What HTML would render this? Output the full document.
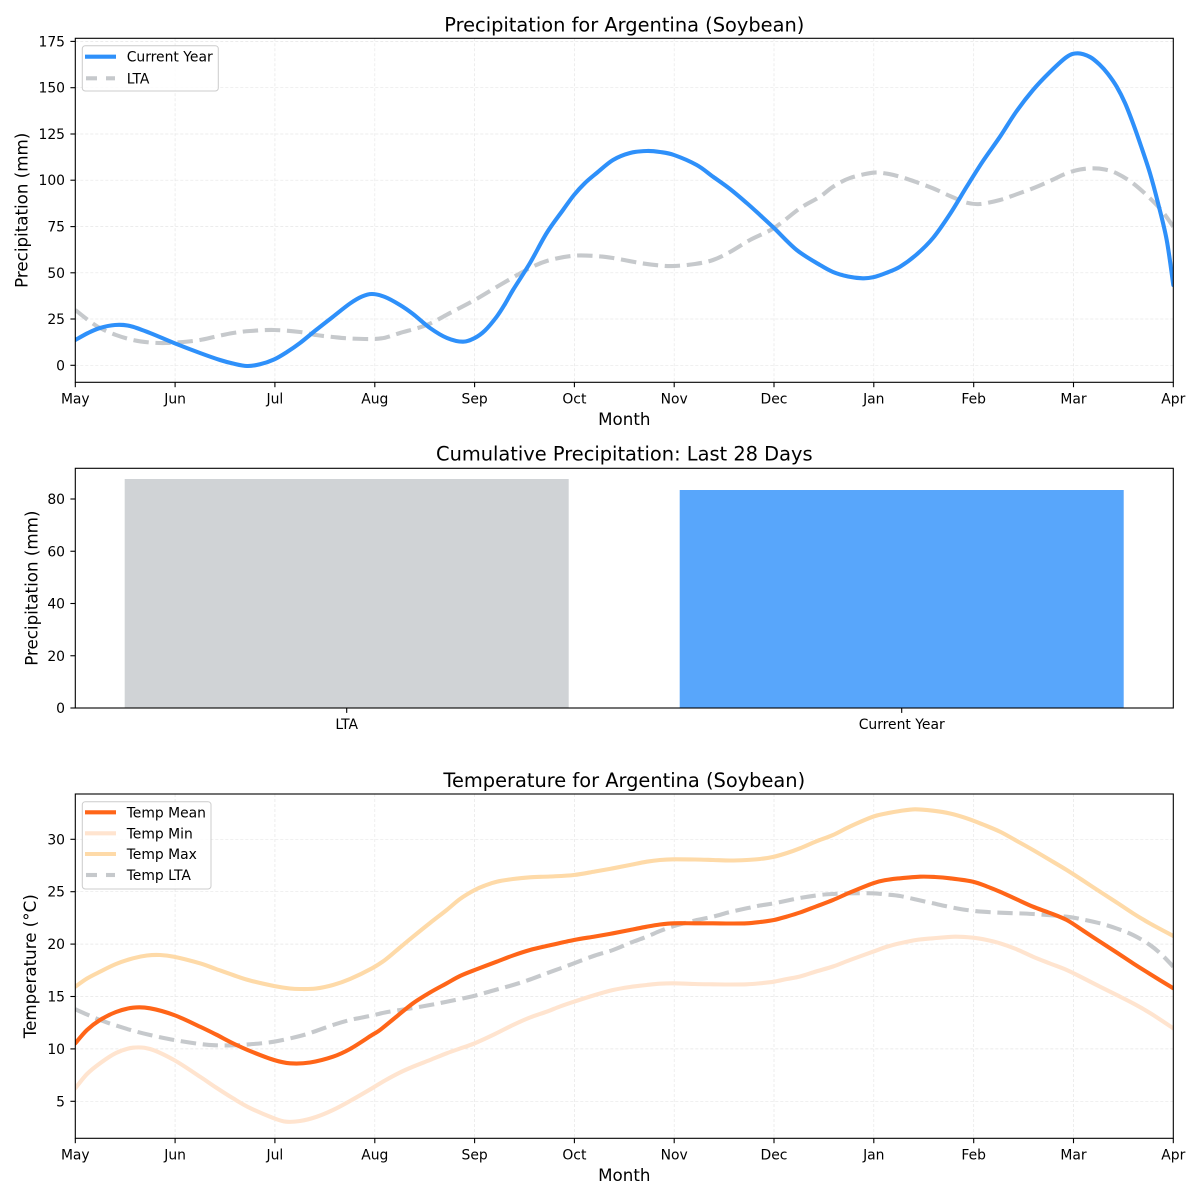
<!DOCTYPE html>
<html><head><meta charset="utf-8"><style>
html,body{margin:0;padding:0;background:#fff;}
svg{display:block;font-family:"DejaVu Sans","Liberation Sans",sans-serif;}
.grid line{stroke:#e6e6e6;stroke-width:0.7;stroke-dasharray:3 2;}
.tk{font-size:13.9px;fill:#000;}
.lab{font-size:16.7px;fill:#000;}
.ttl{font-size:19.4px;fill:#000;}
.lg{font-size:13.9px;fill:#000;}
</style></head><body>
<svg id="c" width="1200" height="1200" viewBox="0 0 1200 1200" xmlns="http://www.w3.org/2000/svg">
<rect width="1200" height="1200" fill="#fff"/>
<defs>
<clipPath id="c1"><rect x="75.3" y="38.3" width="1098" height="344"/></clipPath>
<clipPath id="c3"><rect x="75.3" y="794" width="1098" height="344.3"/></clipPath>
</defs>

<!-- ============ TOP PLOT ============ -->
<g class="grid">
<line x1="75.3" y1="38.3" x2="75.3" y2="382.3"/><line x1="175.1" y1="38.3" x2="175.1" y2="382.3"/><line x1="274.9" y1="38.3" x2="274.9" y2="382.3"/><line x1="374.8" y1="38.3" x2="374.8" y2="382.3"/><line x1="474.6" y1="38.3" x2="474.6" y2="382.3"/><line x1="574.4" y1="38.3" x2="574.4" y2="382.3"/><line x1="674.2" y1="38.3" x2="674.2" y2="382.3"/><line x1="774.0" y1="38.3" x2="774.0" y2="382.3"/><line x1="873.8" y1="38.3" x2="873.8" y2="382.3"/><line x1="973.7" y1="38.3" x2="973.7" y2="382.3"/><line x1="1073.5" y1="38.3" x2="1073.5" y2="382.3"/>
<line x1="75.3" y1="365.3" x2="1173.3" y2="365.3"/><line x1="75.3" y1="319.0" x2="1173.3" y2="319.0"/><line x1="75.3" y1="272.8" x2="1173.3" y2="272.8"/><line x1="75.3" y1="226.6" x2="1173.3" y2="226.6"/><line x1="75.3" y1="180.2" x2="1173.3" y2="180.2"/><line x1="75.3" y1="134.0" x2="1173.3" y2="134.0"/><line x1="75.3" y1="87.7" x2="1173.3" y2="87.7"/><line x1="75.3" y1="41.4" x2="1173.3" y2="41.4"/>
</g>
<g clip-path="url(#c1)" fill="none" stroke-width="4.1" stroke-linejoin="round">
<polyline class="s" stroke="#c6c9cc" stroke-dasharray="15.4 6.7" points="75.3,310 88,320 100,328 116,335 133,340 150,342.5 166,343 183,342 200,340 216,336.5 233,333 250,331 274,330 300,332 316,335 333,337 350,338.5 372,339 385,337.7 400,333 426.7,325 450,313 474.7,300 500,285 530,268 550,260 574,255.7 595,256 613,258 640,263 660,265.5 674,266 695,264 713,260 730,252 750,240 774,228 800,208.3 820,196.7 833,186.7 850,178 873,172.7 886,173.5 900,176.7 916,182 933,188.3 950,196 966.7,202.7 980,204 1000,200 1016,194.5 1033,188.3 1050,181 1066.7,173.3 1080,169.5 1093,168.3 1105,169.5 1116.7,173.3 1133,183.3 1150,198.3 1162,211 1173.3,226.7"/>
<polyline class="s" stroke="#2e90fa" stroke-linecap="round" points="75.3,340 88,333 100,328 115,325 130,326 150,333 174,343 200,353 220,360 233,363.5 247,366 260,364.3 274,359.5 287,352 300,343 316,330 333,316.7 350,303.5 362,296.5 372,294 385,297 400,305 413,314 430,328 447,338 463,341.7 474.7,338 485,330.5 496.7,316.7 505,304 513,290 530,263 546.7,233 563,210 574,195 585,183 596.7,173 613,160 630,153 646.7,151 660,152 674,155 696.7,165 713,176.7 730,189 746.7,203 760,215 774,228 796.7,250 820,265 833,272 848,276.5 862.7,278.3 873,277.3 886,273 900,266.7 916,255 933,238 950,214 966.7,186.7 983,161 1000,136.7 1016,112 1033,90 1050,72 1066.7,57 1077.7,53.3 1090,57 1100,65 1108,74 1116.7,86.7 1125,103 1133,123.3 1141,146 1150,173.3 1158,203 1166.7,240 1173.3,285"/>
</g>
<rect x="75.3" y="38.3" width="1098" height="344" fill="none" stroke="#000" stroke-width="1.1"/>
<g stroke="#000" stroke-width="1.1">
<line x1="75.3" y1="382.3" x2="75.3" y2="387.2"/><line x1="175.1" y1="382.3" x2="175.1" y2="387.2"/><line x1="274.9" y1="382.3" x2="274.9" y2="387.2"/><line x1="374.8" y1="382.3" x2="374.8" y2="387.2"/><line x1="474.6" y1="382.3" x2="474.6" y2="387.2"/><line x1="574.4" y1="382.3" x2="574.4" y2="387.2"/><line x1="674.2" y1="382.3" x2="674.2" y2="387.2"/><line x1="774.0" y1="382.3" x2="774.0" y2="387.2"/><line x1="873.8" y1="382.3" x2="873.8" y2="387.2"/><line x1="973.7" y1="382.3" x2="973.7" y2="387.2"/><line x1="1073.5" y1="382.3" x2="1073.5" y2="387.2"/><line x1="1173.3" y1="382.3" x2="1173.3" y2="387.2"/>
<line x1="70.4" y1="365.3" x2="75.3" y2="365.3"/><line x1="70.4" y1="319.0" x2="75.3" y2="319.0"/><line x1="70.4" y1="272.8" x2="75.3" y2="272.8"/><line x1="70.4" y1="226.6" x2="75.3" y2="226.6"/><line x1="70.4" y1="180.2" x2="75.3" y2="180.2"/><line x1="70.4" y1="134.0" x2="75.3" y2="134.0"/><line x1="70.4" y1="87.7" x2="75.3" y2="87.7"/><line x1="70.4" y1="41.4" x2="75.3" y2="41.4"/>
</g>
<g class="tk" text-anchor="middle">
<text x="75.3" y="403.3">May</text><text x="175.1" y="403.3">Jun</text><text x="274.9" y="403.3">Jul</text><text x="374.8" y="403.3">Aug</text><text x="474.6" y="403.3">Sep</text><text x="574.4" y="403.3">Oct</text><text x="674.2" y="403.3">Nov</text><text x="774.0" y="403.3">Dec</text><text x="873.8" y="403.3">Jan</text><text x="973.7" y="403.3">Feb</text><text x="1073.5" y="403.3">Mar</text><text x="1173.3" y="403.3">Apr</text>
</g>
<g class="tk" text-anchor="end">
<text x="65" y="370.3">0</text><text x="65" y="324">25</text><text x="65" y="277.8">50</text><text x="65" y="231.6">75</text><text x="65" y="185.2">100</text><text x="65" y="139">125</text><text x="65" y="92.7">150</text><text x="65" y="46.4">175</text>
</g>
<text class="lab" x="624.3" y="425" text-anchor="middle">Month</text>
<text class="lab" transform="translate(27.5,210.3) rotate(-90)" text-anchor="middle">Precipitation (mm)</text>
<text class="ttl" x="624.3" y="31.3" text-anchor="middle">Precipitation for Argentina (Soybean)</text>
<!-- legend top -->
<rect x="82.3" y="45.7" width="136" height="45.3" rx="3" fill="#fff" fill-opacity="0.8" stroke="#cccccc" stroke-width="1"/>
<line x1="85" y1="56.7" x2="116" y2="56.7" stroke="#2e90fa" stroke-width="4.1"/>
<line x1="86" y1="78.3" x2="97" y2="78.3" stroke="#c6c9cc" stroke-width="4.1"/>
<line x1="106" y1="78.3" x2="115" y2="78.3" stroke="#c6c9cc" stroke-width="4.1"/>
<text class="lg" x="126.7" y="61.7">Current Year</text>
<text class="lg" x="126.7" y="83.3">LTA</text>

<!-- ============ MIDDLE PLOT ============ -->
<rect x="124.7" y="479" width="444" height="229" fill="#d0d3d6"/>
<rect x="679.7" y="490" width="444" height="218" fill="#58a6fb"/>
<rect x="75.3" y="468.3" width="1098" height="239.7" fill="none" stroke="#000" stroke-width="1.1"/>
<g stroke="#000" stroke-width="1.1">
<line x1="346.7" y1="708" x2="346.7" y2="712.9"/><line x1="901.7" y1="708" x2="901.7" y2="712.9"/>
<line x1="70.4" y1="708" x2="75.3" y2="708"/><line x1="70.4" y1="655.75" x2="75.3" y2="655.75"/><line x1="70.4" y1="603.5" x2="75.3" y2="603.5"/><line x1="70.4" y1="551.25" x2="75.3" y2="551.25"/><line x1="70.4" y1="499" x2="75.3" y2="499"/>
</g>
<g class="tk" text-anchor="end">
<text x="65" y="713">0</text><text x="65" y="660.75">20</text><text x="65" y="608.5">40</text><text x="65" y="556.25">60</text><text x="65" y="504">80</text>
</g>
<g class="tk" text-anchor="middle">
<text x="346.7" y="729">LTA</text><text x="901.7" y="729">Current Year</text>
</g>
<text class="lab" transform="translate(37.5,588.2) rotate(-90)" text-anchor="middle">Precipitation (mm)</text>
<text class="ttl" x="624.3" y="460.5" text-anchor="middle">Cumulative Precipitation: Last 28 Days</text>

<!-- ============ BOTTOM PLOT ============ -->
<g class="grid">
<line x1="75.3" y1="794" x2="75.3" y2="1138.3"/><line x1="175.1" y1="794" x2="175.1" y2="1138.3"/><line x1="274.9" y1="794" x2="274.9" y2="1138.3"/><line x1="374.8" y1="794" x2="374.8" y2="1138.3"/><line x1="474.6" y1="794" x2="474.6" y2="1138.3"/><line x1="574.4" y1="794" x2="574.4" y2="1138.3"/><line x1="674.2" y1="794" x2="674.2" y2="1138.3"/><line x1="774.0" y1="794" x2="774.0" y2="1138.3"/><line x1="873.8" y1="794" x2="873.8" y2="1138.3"/><line x1="973.7" y1="794" x2="973.7" y2="1138.3"/><line x1="1073.5" y1="794" x2="1073.5" y2="1138.3"/>
<line x1="75.3" y1="1101.3" x2="1173.3" y2="1101.3"/><line x1="75.3" y1="1048.9" x2="1173.3" y2="1048.9"/><line x1="75.3" y1="996.5" x2="1173.3" y2="996.5"/><line x1="75.3" y1="944.1" x2="1173.3" y2="944.1"/><line x1="75.3" y1="891.7" x2="1173.3" y2="891.7"/><line x1="75.3" y1="839.3" x2="1173.3" y2="839.3"/>
</g>
<g clip-path="url(#c3)" fill="none" stroke-width="4.1" stroke-linejoin="round">
<polyline class="s" stroke="#ffe4cf" stroke-linecap="round" points="75.3,1088.3 87,1074 100,1063.3 116,1053 133,1047.7 150,1049 174,1060 200,1076.7 216,1087.5 233,1098.3 250,1108 274,1118.3 286,1121.7 300,1121 316,1117 333,1110 350,1101 372,1088.3 385,1080.5 400,1072.5 413,1066.7 430,1060 446.7,1053.3 460,1048.5 474.7,1043.3 495,1034 513,1025 530,1017.5 546.7,1011.7 560,1006.5 574,1001.7 595,995 613,990 630,987 646.7,985 660,983.7 674,983.3 695,984 713,984.3 730,984.5 746.7,984.3 760,983.3 774,981.7 787,979 800,976.5 816,971.5 833,966.5 850,960 873,951.7 886,947 900,943.3 916,940 933,938.3 955,936.7 973,937.7 987,940 1000,943.3 1016,949 1033,956.7 1050,963.5 1066.7,970 1083,978 1100,986.7 1116.7,995 1133,1003.3 1150,1013 1173.3,1028.3"/>
<polyline class="s" stroke="#fedaa8" stroke-linecap="round" points="75.3,986.7 87,978.5 100,971.7 116,964 133,958.3 147,955.5 160,955 174,956.7 200,963.3 216,969 233,975 250,980.5 274,986 290,988.5 300,989 316,988.5 333,985 350,979 372,968.3 385,960 400,947.5 413,936.7 430,923 446.7,910 460,899 474.7,890 485,885.5 496.7,881.7 513,879 530,877.3 550,876.5 574,875 595,871.5 613,868.3 630,865 646.7,861.7 660,860 674,859.3 695,859.5 713,860 730,860.5 746.7,860 760,859 774,856.7 787,853 800,848.3 816,841.5 833,835 850,826.5 873,816.7 886,813.5 900,811 915,809.3 933,810.7 950,813.5 966.7,818.3 983,824.5 1000,831.7 1016,840.5 1033,850 1050,860 1066.7,870 1083,880.5 1100,891.7 1116.7,902.5 1133,913.3 1150,923.5 1173.3,936"/>
<polyline class="s" stroke="#c6c9cc" stroke-dasharray="15.4 6.7" points="75.3,1009.3 87,1014.5 100,1020 116,1025.5 133,1030.7 150,1035 174,1040 200,1044 216,1045.3 233,1045.3 250,1044.3 274,1041.7 300,1036 316,1031 333,1025 350,1020 372,1015.5 385,1012.5 400,1010 413,1008 430,1005 446.7,1001.7 474.7,995.7 495,990 513,985 530,979.5 546.7,973.3 560,968.5 574,963.3 595,955.5 613,950 630,943 646.7,936.7 660,931 674,926 695,920.5 713,916.7 730,912 746.7,908.3 760,905.5 774,903.3 800,898 820,895 833,894 850,893.3 873,893.3 886,894.5 900,896 916,899.5 933,903.3 950,907 966.7,910 983,911.7 1000,912.7 1033,914 1066.7,916.7 1083,919.5 1100,923.3 1116.7,928.5 1133,935 1150,945 1162,955 1173.3,966.7"/>
<polyline class="s" stroke="#ff6518" stroke-linecap="round" points="75.3,1043.3 87,1030 100,1020 116,1012 133,1007.7 150,1008.3 174,1015 200,1026.7 216,1034.5 233,1043.3 250,1051 274,1060 290,1063.3 310,1062.5 333,1056.7 350,1049 372,1035 380,1030 396,1017 413,1003.3 430,992.5 446.7,983.3 460,976 474.7,970 496.7,961.7 513,955.5 530,950 550,945.3 574,940 595,936.5 613,933.3 630,930 646.7,926.7 660,924.5 674,923.3 695,923.3 713,923.3 730,923.5 746.7,923.3 760,922 774,920 787,916.5 800,912.5 816,906.5 833,900 850,892.5 873,883.3 886,880 900,878.3 920,876.7 935,877 950,878.3 973,881.7 987,886.5 1000,891.7 1016,899 1033,906.7 1050,913 1066.7,920 1083,930.5 1100,941.7 1116.7,952.5 1133,963.3 1150,974 1173.3,988.3"/>
</g>
<rect x="75.3" y="794" width="1098" height="344.3" fill="none" stroke="#000" stroke-width="1.1"/>
<g stroke="#000" stroke-width="1.1">
<line x1="75.3" y1="1138.3" x2="75.3" y2="1143.2"/><line x1="175.1" y1="1138.3" x2="175.1" y2="1143.2"/><line x1="274.9" y1="1138.3" x2="274.9" y2="1143.2"/><line x1="374.8" y1="1138.3" x2="374.8" y2="1143.2"/><line x1="474.6" y1="1138.3" x2="474.6" y2="1143.2"/><line x1="574.4" y1="1138.3" x2="574.4" y2="1143.2"/><line x1="674.2" y1="1138.3" x2="674.2" y2="1143.2"/><line x1="774.0" y1="1138.3" x2="774.0" y2="1143.2"/><line x1="873.8" y1="1138.3" x2="873.8" y2="1143.2"/><line x1="973.7" y1="1138.3" x2="973.7" y2="1143.2"/><line x1="1073.5" y1="1138.3" x2="1073.5" y2="1143.2"/><line x1="1173.3" y1="1138.3" x2="1173.3" y2="1143.2"/>
<line x1="70.4" y1="1101.3" x2="75.3" y2="1101.3"/><line x1="70.4" y1="1048.9" x2="75.3" y2="1048.9"/><line x1="70.4" y1="996.5" x2="75.3" y2="996.5"/><line x1="70.4" y1="944.1" x2="75.3" y2="944.1"/><line x1="70.4" y1="891.7" x2="75.3" y2="891.7"/><line x1="70.4" y1="839.3" x2="75.3" y2="839.3"/>
</g>
<g class="tk" text-anchor="middle">
<text x="75.3" y="1159.3">May</text><text x="175.1" y="1159.3">Jun</text><text x="274.9" y="1159.3">Jul</text><text x="374.8" y="1159.3">Aug</text><text x="474.6" y="1159.3">Sep</text><text x="574.4" y="1159.3">Oct</text><text x="674.2" y="1159.3">Nov</text><text x="774.0" y="1159.3">Dec</text><text x="873.8" y="1159.3">Jan</text><text x="973.7" y="1159.3">Feb</text><text x="1073.5" y="1159.3">Mar</text><text x="1173.3" y="1159.3">Apr</text>
</g>
<g class="tk" text-anchor="end">
<text x="65" y="1106.3">5</text><text x="65" y="1053.9">10</text><text x="65" y="1001.5">15</text><text x="65" y="949.1">20</text><text x="65" y="896.7">25</text><text x="65" y="844.3">30</text>
</g>
<text class="lab" x="624.3" y="1181" text-anchor="middle">Month</text>
<text class="lab" transform="translate(36,966.2) rotate(-90)" text-anchor="middle">Temperature (°C)</text>
<text class="ttl" x="624.3" y="787" text-anchor="middle">Temperature for Argentina (Soybean)</text>
<!-- legend bottom -->
<rect x="82.3" y="801.7" width="128.7" height="87.3" rx="3" fill="#fff" fill-opacity="0.8" stroke="#cccccc" stroke-width="1"/>
<line x1="85" y1="812.3" x2="116" y2="812.3" stroke="#ff6518" stroke-width="4.1"/>
<line x1="85" y1="833.3" x2="116" y2="833.3" stroke="#ffe4cf" stroke-width="4.1"/>
<line x1="85" y1="854" x2="116" y2="854" stroke="#fedaa8" stroke-width="4.1"/>
<line x1="86" y1="875" x2="97" y2="875" stroke="#c6c9cc" stroke-width="4.1"/>
<line x1="106" y1="875" x2="115" y2="875" stroke="#c6c9cc" stroke-width="4.1"/>
<text class="lg" x="126.7" y="817.3">Temp Mean</text>
<text class="lg" x="126.7" y="838.3">Temp Min</text>
<text class="lg" x="126.7" y="859">Temp Max</text>
<text class="lg" x="126.7" y="880">Temp LTA</text>
</svg>
<script>
(function(){
var NS="http://www.w3.org/2000/svg";
var pls=document.querySelectorAll("polyline.s");
for(var k=0;k<pls.length;k++){
var pl=pls[k];
var pts=pl.getAttribute("points").trim().split(/\s+/).map(function(p){return p.split(",").map(Number);});
var d="M"+pts[0][0]+","+pts[0][1];
for(var i=0;i<pts.length-1;i++){
var p0=pts[i-1]||pts[i],p1=pts[i],p2=pts[i+1],p3=pts[i+2]||pts[i+1];
var c1x=p1[0]+(p2[0]-p0[0])/6,c1y=p1[1]+(p2[1]-p0[1])/6;
var c2x=p2[0]-(p3[0]-p1[0])/6,c2y=p2[1]-(p3[1]-p1[1])/6;
d+=" C"+c1x.toFixed(2)+","+c1y.toFixed(2)+" "+c2x.toFixed(2)+","+c2y.toFixed(2)+" "+p2[0]+","+p2[1];
}
var path=document.createElementNS(NS,"path");
for(var a=0;a<pl.attributes.length;a++){var at=pl.attributes[a];if(at.name!=="points"&&at.name!=="class")path.setAttribute(at.name,at.value);}
path.setAttribute("d",d);
pl.parentNode.replaceChild(path,pl);
}
})();
</script>
</body></html>
